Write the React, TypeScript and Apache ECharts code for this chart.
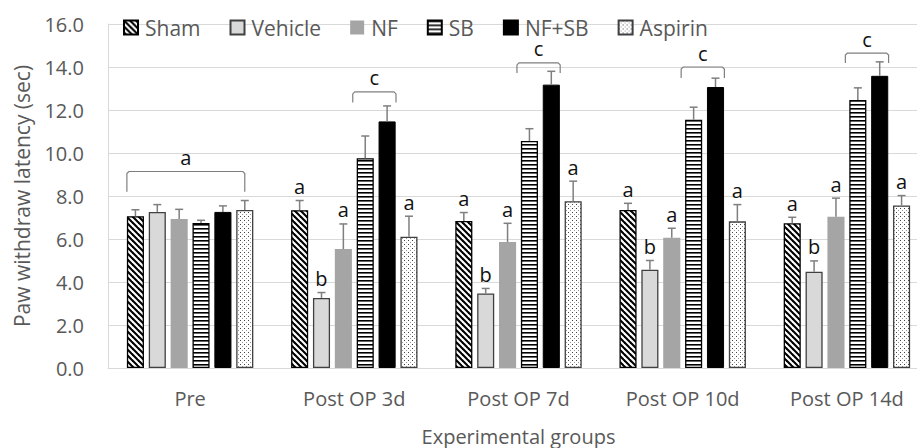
import React, { useEffect, useRef } from "react";
import * as echarts from "echarts";

const categories = ["Pre", "Post OP 3d", "Post OP 7d", "Post OP 10d", "Post OP 14d"];
const groupNames = ["Sham", "Vehicle", "NF", "SB", "NF+SB", "Aspirin"];

const sham = [7.06, 7.34, 6.84, 7.35, 6.73];
const shamErr = [0.3, 0.45, 0.39, 0.31, 0.28];
const vehicle = [7.26, 3.26, 3.47, 4.57, 4.48];
const vehicleErr = [0.34, 0.25, 0.23, 0.43, 0.5];
const nf = [6.93, 5.53, 5.86, 6.06, 7.03];
const nfErr = [0.45, 1.17, 0.87, 0.44, 0.87];
const sb = [6.75, 9.76, 10.56, 11.55, 12.47];
const sbErr = [0.12, 1.03, 0.57, 0.58, 0.56];
const nfsb = [7.26, 11.47, 13.18, 13.07, 13.59];
const nfsbErr = [0.28, 0.72, 0.62, 0.41, 0.65];
const aspirin = [7.35, 6.11, 7.76, 6.82, 7.56];
const aspirinErr = [0.44, 0.95, 0.93, 0.78, 0.46];

const shamLetters = ["", "a", "a", "a", "a"];
const vehicleLetters = ["", "b", "b", "b", "b"];
const nfLetters = ["", "a", "a", "a", "a"];
const sbLetters = ["", "", "", "", ""];
const nfsbLetters = ["", "", "", "", ""];
const aspirinLetters = ["", "a", "a", "a", "a"];

// brackets: category, top value, leg-end value, first bar, last bar, label
const bracketCats = [0, 1, 2, 3, 4];
const bracketTop = [9.14, 12.84, 14.19, 14.0, 14.65];
const bracketLeg = [8.2, 12.35, 13.72, 13.49, 14.19];
const bracketFrom = [0, 3, 3, 3, 3];
const bracketTo = [5, 4, 4, 4, 4];
const bracketLabels = ["a", "c", "c", "c", "c"];

const yMin = 0;
const yMax = 16;
const yInterval = 2;

const means = [sham, vehicle, nf, sb, nfsb, aspirin];
const errs = [shamErr, vehicleErr, nfErr, sbErr, nfsbErr, aspirinErr];
const letters = [shamLetters, vehicleLetters, nfLetters, sbLetters, nfsbLetters, aspirinLetters];

const FONT = '"Open Sans", "Noto Sans", sans-serif';
const TEXT = "#595959";
const CAT_GAP = 0.23;
const BAR_GAP = 0.28;

function makePattern(w: number, h: number, draw: (ctx: CanvasRenderingContext2D) => void) {
  const c = document.createElement("canvas");
  c.width = w;
  c.height = h;
  const ctx = c.getContext("2d")!;
  ctx.fillStyle = "#ffffff";
  ctx.fillRect(0, 0, w, h);
  draw(ctx);
  return { image: c.toDataURL(), repeat: "repeat", imageWidth: w, imageHeight: h } as any;
}

function barGeom(api: any) {
  const n = groupNames.length;
  const band = api.size([1, 0])[0];
  const w = (band * (1 - CAT_GAP)) / (n + (n - 1) * BAR_GAP);
  return { w, pitch: w * (1 + BAR_GAP), n };
}

function barX(api: any, cat: number, s: number) {
  const { pitch, n } = barGeom(api);
  const cx = api.coord([cat, 0])[0];
  return cx + (s - (n - 1) / 2) * pitch;
}

export default function App() {
  const ref = useRef<HTMLDivElement>(null);

  useEffect(() => {
    if (!ref.current) return;
    document.body.style.margin = "0";
    const chart = echarts.init(ref.current, undefined, { renderer: "svg" });

    const shamPat = makePattern(6, 6, (ctx) => {
      ctx.strokeStyle = "#000";
      ctx.lineWidth = 2.1;
      for (let k = -1; k <= 1; k++) {
        ctx.beginPath();
        ctx.moveTo(k * 6 - 1, -1);
        ctx.lineTo(k * 6 + 7, 7);
        ctx.stroke();
      }
    });
    const sbPat = makePattern(4, 4, (ctx) => {
      ctx.fillStyle = "#000";
      ctx.fillRect(0, 0, 4, 1);
      ctx.fillStyle = "#666";
      ctx.fillRect(0, 1, 4, 1);
    });
    const aspPat = makePattern(4, 4, (ctx) => {
      ctx.fillStyle = "#444";
      ctx.fillRect(0, 0, 1, 1);
      ctx.fillStyle = "#999";
      ctx.fillRect(2, 2, 1, 1);
    });

    const styles = [
      { color: shamPat, borderColor: "#000", borderWidth: 1.3 },
      { color: "#d9d9d9", borderColor: "#404040", borderWidth: 1.3 },
      { color: "#a5a5a5", borderColor: "#a5a5a5", borderWidth: 0 },
      { color: sbPat, borderColor: "#000", borderWidth: 1.3 },
      { color: "#000000", borderColor: "#000", borderWidth: 1 },
      { color: aspPat, borderColor: "#404040", borderWidth: 1.3 },
    ];

    const barSeries = groupNames.map((name, i) => ({
      name,
      type: "bar",
      data: means[i],
      barGap: BAR_GAP * 100 + "%",
      barCategoryGap: CAT_GAP * 100 + "%",
      itemStyle: styles[i],
      emphasis: { disabled: true },
      z: 2,
    }));

    const errData: number[][] = [];
    for (let s = 0; s < groupNames.length; s++) {
      for (let c = 0; c < categories.length; c++) {
        errData.push([c, s, means[s][c], errs[s][c]]);
      }
    }

    const errSeries = {
      type: "custom",
      name: "err",
      z: 5,
      silent: true,
      data: errData,
      encode: { x: 0, y: 2 },
      renderItem: (params: any, api: any) => {
        const cat = api.value(0);
        const s = api.value(1);
        const mean = api.value(2);
        const err = api.value(3);
        const x = barX(api, cat, s);
        const y0 = api.coord([cat, mean])[1];
        const y1 = api.coord([cat, mean + err])[1];
        const ls = { stroke: "#7f7f7f", lineWidth: 1.5 };
        const children: any[] = [
          { type: "line", shape: { x1: x, y1: y0, x2: x, y2: y1 }, style: ls },
          { type: "line", shape: { x1: x - 4, y1: y1, x2: x + 4, y2: y1 }, style: ls },
        ];
        const letter = letters[s][cat];
        if (letter) {
          children.push({
            type: "text",
            x,
            y: y1 - 14,
            style: {
              text: letter,
              fill: "#111",
              fontSize: 20,
              fontFamily: FONT,
              align: "center",
              verticalAlign: "middle",
            },
          });
        }
        return { type: "group", children };
      },
    };

    const bracketData = bracketCats.map((c, i) => [c, bracketTop[i], bracketLeg[i], bracketFrom[i], bracketTo[i]]);

    const bracketSeries = {
      type: "custom",
      name: "brackets",
      z: 5,
      silent: true,
      data: bracketData,
      encode: { x: 0, y: 1 },
      renderItem: (params: any, api: any) => {
        const cat = api.value(0);
        const top = api.value(1);
        const leg = api.value(2);
        const from = api.value(3);
        const to = api.value(4);
        const { w } = barGeom(api);
        const isAll = from === 0;
        const xl = barX(api, cat, from) - (isAll ? 0.5 * w : 0.73 * w);
        const xr = barX(api, cat, to) + (isAll ? 0 : 0.52 * w);
        const yt = api.coord([cat, top])[1];
        const yl = api.coord([cat, leg])[1];
        const r = 2;
        return {
          type: "group",
          children: [
            {
              type: "polyline",
              shape: {
                points: [
                  [xl, yl],
                  [xl, yt + r],
                  [xl + r, yt],
                  [xr - r, yt],
                  [xr, yt + r],
                  [xr, yl],
                ],
              },
              style: { stroke: "#7f7f7f", lineWidth: 1.2, fill: "none" },
            },
            {
              type: "text",
              x: (xl + xr) / 2,
              y: yt - 14,
              style: {
                text: bracketLabels[params.dataIndex],
                fill: "#111",
                fontSize: 20,
                fontFamily: FONT,
                align: "center",
                verticalAlign: "middle",
              },
            },
          ],
        };
      },
    };

    chart.setOption({
      animation: false,
      backgroundColor: "#ffffff",
      textStyle: { fontFamily: FONT },
      grid: {
        left: 108,
        top: 24,
        width: 821,
        height: 344,
        containLabel: false,
        outerBoundsMode: "none",
      },
      legend: {
        data: groupNames,
        left: 118,
        top: 12,
        icon: "rect",
        itemWidth: 14,
        itemHeight: 14,
        itemGap: 29,
        selectedMode: false,
        textStyle: { color: TEXT, fontSize: 21, fontFamily: FONT, padding: [0, 0, 0, 2] },
      },
      xAxis: {
        type: "category",
        data: categories,
        name: "Experimental groups",
        nameLocation: "middle",
        nameGap: 58,
        nameTextStyle: { color: TEXT, fontSize: 20, fontFamily: FONT },
        axisTick: { show: false },
        axisLine: { lineStyle: { color: "#d9d9d9", width: 1 } },
        axisLabel: { color: TEXT, fontSize: 20, fontFamily: FONT, margin: 20, interval: 0 },
      },
      yAxis: {
        type: "value",
        min: yMin,
        max: yMax,
        interval: yInterval,
        name: "Paw withdraw latency (sec)",
        nameLocation: "middle",
        nameGap: 76,
        nameTextStyle: { color: TEXT, fontSize: 21, fontFamily: FONT },
        axisLine: { show: true, lineStyle: { color: "#d9d9d9", width: 1 } },
        axisTick: { show: false },
        splitLine: { lineStyle: { color: "#d9d9d9", width: 1 } },
        axisLabel: {
          color: TEXT,
          fontSize: 20,
          fontFamily: FONT,
          margin: 24,
          formatter: (v: number) => v.toFixed(1),
        },
      },
      series: [...barSeries, errSeries, bracketSeries],
    } as any);

    return () => chart.dispose();
  }, []);

  return <div ref={ref} style={{ width: 917, height: 448 }} />;
}
